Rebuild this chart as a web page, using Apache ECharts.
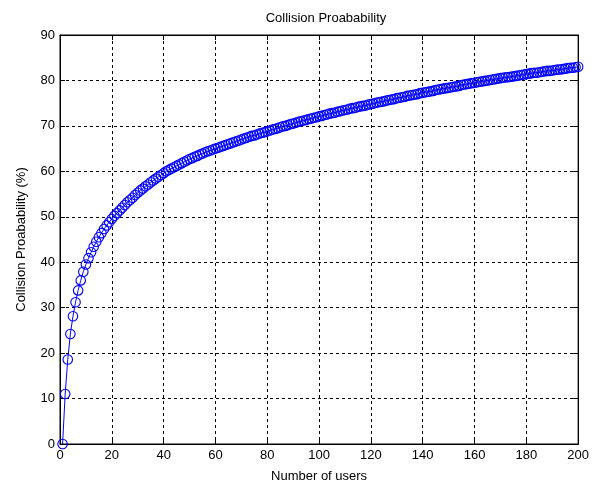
<!DOCTYPE html>
<html>
<head>
<meta charset="utf-8">
<script src="https://cdn.jsdelivr.net/npm/echarts@6/dist/echarts.min.js"></script>
<style>html,body{margin:0;padding:0;background:#fff;}#c{width:592px;height:488px;}</style>
</head>
<body>
<div id="c"></div>
<script>
var titleText = 'Collision Proabability';
var xName = 'Number of users';
var yName = 'Collision Proabability (%)';
var xTicks = [0, 20, 40, 60, 80, 100, 120, 140, 160, 180, 200];
var yTicks = [0, 10, 20, 30, 40, 50, 60, 70, 80, 90];
var firstUser = 1;
var probability = [
  0, 11.0, 18.6, 24.2, 28.1, 31.2, 33.8, 36.0, 37.9, 39.5,
  40.9, 42.2, 43.4, 44.5, 45.5, 46.4, 47.3, 48.1, 48.8, 49.5,
  50.2, 50.8, 51.4, 52.0, 52.6, 53.2, 53.7, 54.2, 54.8, 55.3,
  55.8, 56.2, 56.7, 57.1, 57.6, 58.0, 58.4, 58.8, 59.2, 59.6,
  60.0, 60.3, 60.6, 60.9, 61.2, 61.5, 61.8, 62.1, 62.4, 62.7,
  62.9, 63.2, 63.4, 63.7, 63.9, 64.2, 64.4, 64.6, 64.8, 65.0,
  65.2, 65.4, 65.6, 65.8, 66.0, 66.2, 66.4, 66.6, 66.8, 67.0,
  67.2, 67.4, 67.6, 67.8, 67.9, 68.1, 68.3, 68.5, 68.6, 68.8,
  69.0, 69.2, 69.3, 69.5, 69.7, 69.9, 70.0, 70.2, 70.4, 70.5,
  70.7, 70.9, 71.0, 71.2, 71.3, 71.5, 71.6, 71.8, 71.9, 72.1,
  72.2, 72.4, 72.5, 72.7, 72.8, 72.9, 73.1, 73.2, 73.4, 73.5,
  73.6, 73.8, 73.9, 74.0, 74.2, 74.3, 74.4, 74.5, 74.7, 74.8,
  74.9, 75.1, 75.2, 75.3, 75.4, 75.6, 75.7, 75.8, 75.9, 76.1,
  76.2, 76.3, 76.4, 76.6, 76.7, 76.8, 76.9, 77.0, 77.2, 77.3,
  77.4, 77.5, 77.6, 77.7, 77.9, 78.0, 78.1, 78.2, 78.3, 78.4,
  78.5, 78.6, 78.7, 78.8, 79.0, 79.1, 79.2, 79.3, 79.4, 79.5,
  79.6, 79.7, 79.8, 79.9, 80.0, 80.1, 80.2, 80.3, 80.4, 80.5,
  80.6, 80.7, 80.7, 80.8, 80.9, 81.0, 81.1, 81.2, 81.3, 81.4,
  81.5, 81.6, 81.7, 81.7, 81.8, 81.9, 82.0, 82.1, 82.1, 82.2,
  82.3, 82.4, 82.4, 82.5, 82.6, 82.7, 82.8, 82.8, 82.9, 83.0
];

var seriesData = probability.map(function (v, i) { return [firstUser + i, v]; });

var FONT = 'Liberation Sans, Arial, sans-serif';
var axisCommon = function (ticks, extra) {
  var o = {
    type: 'value',
    min: ticks[0],
    max: ticks[ticks.length - 1],
    interval: ticks[1] - ticks[0],
    axisLine: { show: true, onZero: false, lineStyle: { color: '#000', width: 1 } },
    axisTick: { show: true, inside: true, length: 5, lineStyle: { color: '#000' } },
    splitLine: { show: false },
    axisLabel: { show: false }
  };
  for (var k in extra) o[k] = extra[k];
  return o;
};

var chart = echarts.init(document.getElementById('c'), null, { renderer: 'canvas' });
chart.setOption({
  animation: false,
  backgroundColor: '#fff',
  title: {
    text: titleText,
    left: 321, top: 7, textAlign: 'center',
    textStyle: { fontFamily: FONT, fontSize: 13, fontWeight: 'normal', color: '#000' }
  },
  grid: { left: 60, right: 10, top: 35, bottom: 41, show: true, borderColor: '#000', borderWidth: 1 },
  xAxis: [
    axisCommon(xTicks, {
      position: 'bottom',
      name: xName, nameLocation: 'middle', nameGap: 26,
      nameTextStyle: { fontFamily: FONT, fontSize: 13, color: '#000' },
      axisLabel: { show: true, margin: 5, fontFamily: FONT, fontSize: 13, color: '#000' },
      splitLine: { show: true, lineStyle: { color: '#000', type: [3, 3], width: 1 } }
    }),
    axisCommon(xTicks, { position: 'top' })
  ],
  yAxis: [
    axisCommon(yTicks, {
      position: 'left',
      name: yName, nameLocation: 'middle', nameGap: 32,
      nameTextStyle: { fontFamily: FONT, fontSize: 13, color: '#000' },
      axisLabel: { show: true, margin: 5, fontFamily: FONT, fontSize: 13, color: '#000' },
      splitLine: { show: true, lineStyle: { color: '#000', type: [3, 3], width: 1 } }
    }),
    axisCommon(yTicks, { position: 'right' })
  ],
  series: [{
    type: 'line',
    data: seriesData,
    xAxisIndex: 0, yAxisIndex: 0,
    symbol: 'circle',
    symbolSize: 9.5,
    showAllSymbol: true,
    lineStyle: { color: '#0000ff', width: 1 },
    itemStyle: { color: 'rgba(0,0,0,0)', borderColor: '#0000ff', borderWidth: 1.1 },
    emphasis: { disabled: true },
    z: 3
  }]
});
</script>
</body>
</html>
